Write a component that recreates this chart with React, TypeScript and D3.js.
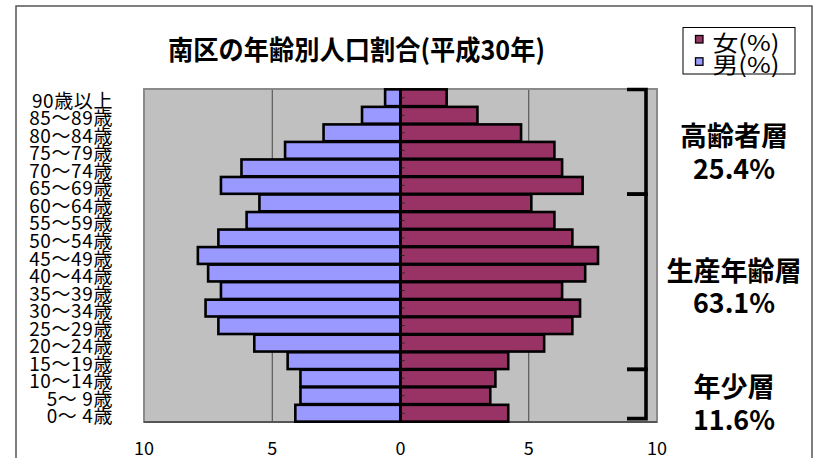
import React from "react";
import * as d3 from "d3";

// Age groups, top (oldest) to bottom (youngest)
const ageGroups = [
  "90歳以上", "85～89歳", "80～84歳", "75～79歳", "70～74歳", "65～69歳",
  "60～64歳", "55～59歳", "50～54歳", "45～49歳", "40～44歳", "35～39歳",
  "30～34歳", "25～29歳", "20～24歳", "15～19歳", "10～14歳", "5～ 9歳", "0～ 4歳",
];

// Share of each age group within each sex (%)
const maleShare = [
  0.6, 1.5, 3.0, 4.5, 6.2, 7.0, 5.5, 6.0, 7.1, 7.9,
  7.5, 7.0, 7.6, 7.1, 5.7, 4.4, 3.9, 3.9, 4.1,
];
const femaleShare = [
  1.8, 3.0, 4.7, 6.0, 6.3, 7.1, 5.1, 6.0, 6.7, 7.7,
  7.2, 6.3, 7.0, 6.7, 5.6, 4.2, 3.7, 3.5, 4.2,
];

const xTicks = [-10, -5, 0, 5, 10];

// Age-band brackets: first and last group covered, label, share
const bandFirst = ["90歳以上", "60～64歳", "10～14歳"];
const bandLast = ["65～69歳", "15～19歳", "0～ 4歳"];
const bandNames = ["高齢者層", "生産年齢層", "年少層"];
const bandShares = ["25.4%", "63.1%", "11.6%"];

const legendLabels = ["女(%)", "男(%)"];

const W = 815;
const H = 458;
const plot = { left: 144, right: 657, top: 89, bottom: 422 };

const MALE = "#9999FF";
const FEMALE = "#993366";
const JP = "'Noto Sans CJK JP', 'Noto Sans', sans-serif";

export default function App() {
  const x = d3.scaleLinear().domain([-10, 10]).range([plot.left, plot.right]);
  const y = d3
    .scaleBand<string>()
    .domain(ageGroups)
    .range([plot.top, plot.bottom])
    .paddingInner(0.04)
    .paddingOuter(0.02);
  const x0 = x(0);

  const bracketX = 646;
  const bracketTick = 627;
  const bandCenterY = [134, 269.5, 385];
  const bandShareY = [167, 301.5, 418];

  return (
    <svg
      width={W}
      height={H}
      style={{ position: "absolute", left: 0, top: 0, display: "block", background: "#fff" }}
    >
      {/* outer chart frame */}
      <path d={`M16,${H + 2} V6 H812 V${H + 2}`} fill="none" stroke="#555" strokeWidth={1.5} />

      {/* title */}
      <text
        x={356.5}
        y={48.5}
        textAnchor="middle"
        dominantBaseline="central"
        fontFamily={JP}
        fontWeight={700}
        fontSize={27}
        textLength={377}
        lengthAdjust="spacingAndGlyphs"
      >
        南区の年齢別人口割合(平成30年)
      </text>

      {/* legend */}
      <g>
        <rect x={683} y={27.5} width={112} height={46.5} fill="#fff" stroke="#000" strokeWidth={1} />
        {legendLabels.map((lab, i) => (
          <g key={lab}>
            <rect
              x={695.5}
              y={35.5 + i * 22.3}
              width={7.5}
              height={7.5}
              fill={i === 0 ? FEMALE : MALE}
              stroke="#000"
              strokeWidth={1.3}
            />
            <text
              x={712.5}
              y={40.5 + i * 22.5}
              dominantBaseline="central"
              fontFamily={JP}
              fontSize={22}
              textLength={67}
              lengthAdjust="spacingAndGlyphs"
            >
              {lab}
            </text>
          </g>
        ))}
      </g>

      {/* plot area */}
      <rect
        x={plot.left}
        y={plot.top}
        width={plot.right - plot.left}
        height={plot.bottom - plot.top}
        fill="#C0C0C0"
      />
      {xTicks
        .filter((t) => t !== 0 && Math.abs(t) !== 10)
        .map((t) => (
          <line
            key={t}
            x1={x(t)}
            x2={x(t)}
            y1={plot.top}
            y2={plot.bottom}
            stroke="#444"
            strokeWidth={1}
          />
        ))}
      <rect
        x={plot.left}
        y={plot.top}
        width={plot.right - plot.left}
        height={plot.bottom - plot.top}
        fill="none"
        stroke="#8a8a8a"
        strokeWidth={2}
      />
      <line x1={plot.left} x2={plot.right} y1={plot.bottom} y2={plot.bottom} stroke="#555" strokeWidth={2} />

      {/* bars */}
      {ageGroups.map((g, i) => (
        <g key={g}>
          <rect
            x={x(-maleShare[i])}
            y={y(g)}
            width={x0 - x(-maleShare[i])}
            height={y.bandwidth()}
            fill={MALE}
            stroke="#000"
            strokeWidth={2.6}
          />
          <rect
            x={x0}
            y={y(g)}
            width={x(femaleShare[i]) - x0}
            height={y.bandwidth()}
            fill={FEMALE}
            stroke="#000"
            strokeWidth={2.6}
          />
        </g>
      ))}

      {/* category axis at zero */}
      <line x1={x0} x2={x0} y1={plot.top} y2={plot.bottom} stroke="#000" strokeWidth={2} />
      {ageGroups.map((g) => (
        <line
          key={g}
          x1={x0}
          x2={x0 + 4}
          y1={(y(g) ?? 0) + y.bandwidth() / 2}
          y2={(y(g) ?? 0) + y.bandwidth() / 2}
          stroke="#222"
          strokeWidth={1}
        />
      ))}

      {/* age-group labels */}
      {ageGroups.map((g) => (
        <text
          key={g}
          x={113}
          y={(y(g) ?? 0) + y.bandwidth() / 2 + 1.5}
          textAnchor="end"
          dominantBaseline="central"
          fontFamily={JP}
          fontSize={19}
          letterSpacing={0.6}
        >
          {g}
        </text>
      ))}

      {/* value axis labels */}
      {xTicks.map((t) => (
        <text
          key={t}
          x={x(t)}
          y={446.5}
          textAnchor="middle"
          dominantBaseline="central"
          fontFamily={JP}
          fontSize={18}
        >
          {Math.abs(t)}
        </text>
      ))}

      {/* age-band brackets */}
      {bandFirst.map((first, i) => {
        const top = i === 0 ? plot.top + 0.5 : (y(first) ?? 0) - 0.5;
        const bottom =
          i === bandLast.length - 1
            ? (y(bandLast[i]) ?? 0) + y.bandwidth() - 3
            : (y(bandLast[i]) ?? 0) + y.bandwidth() + 0.5;
        return (
          <path
            key={first}
            d={`M${bracketTick},${top} H${bracketX} V${bottom} H${bracketTick}`}
            fill="none"
            stroke="#000"
            strokeWidth={3.6}
          />
        );
      })}

      {/* band labels */}
      {bandNames.map((name, i) => (
        <g key={name}>
          <text
            x={734}
            y={bandCenterY[i]}
            textAnchor="middle"
            dominantBaseline="central"
            fontFamily={JP}
            fontWeight={700}
            fontSize={27}
          >
            {name}
          </text>
          <text
            x={734}
            y={bandShareY[i]}
            textAnchor="middle"
            dominantBaseline="central"
            fontFamily={JP}
            fontWeight={700}
            fontSize={27}
            textLength={82}
            lengthAdjust="spacingAndGlyphs"
          >
            {bandShares[i]}
          </text>
        </g>
      ))}
    </svg>
  );
}
